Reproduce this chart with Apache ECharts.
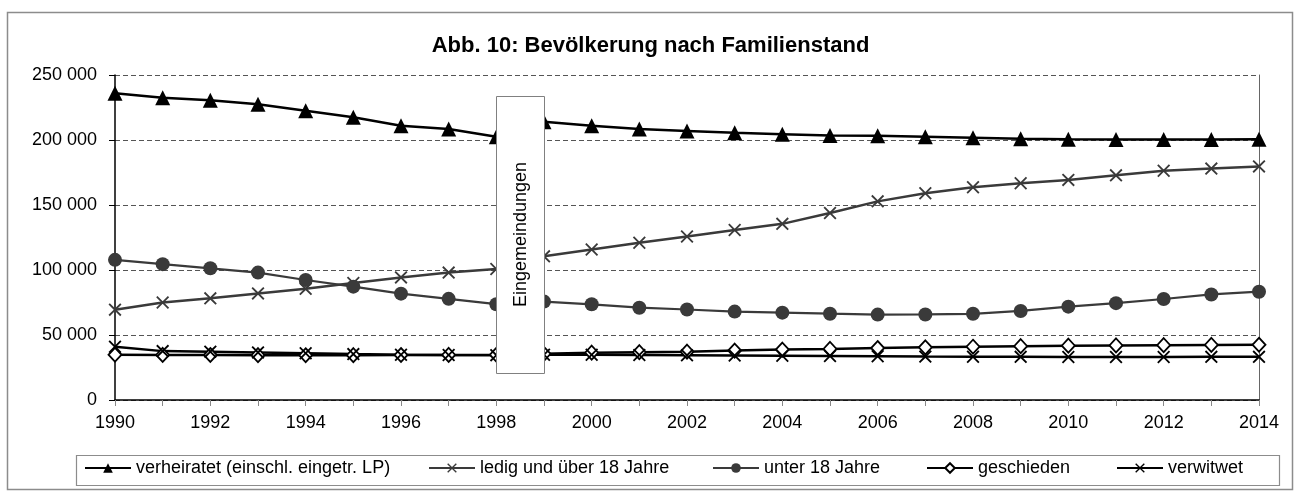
<!DOCTYPE html>
<html>
<head>
<meta charset="utf-8">
<script src="https://cdn.jsdelivr.net/npm/echarts@6/dist/echarts.min.js"></script>
<style>
  html, body { margin: 0; padding: 0; background: #fff; }
  #chart { width: 1301px; height: 493px; }
</style>
</head>
<body>
<div id="chart"></div>
<script>
// Jahre (Kategorien)
const years = ['1990','1991','1992','1993','1994','1995','1996','1997','1998','1999','2000','2001','2002',
               '2003','2004','2005','2006','2007','2008','2009','2010','2011','2012','2013','2014'];

// Bevölkerung nach Familienstand
const verheiratet = [236000, 232500, 230500, 227500, 222500, 217500, 211000, 208500, 202500, 214000, 211000, 208500, 207000,
                     205500, 204500, 203500, 203200, 202500, 201800, 201000, 200500, 200300, 200300, 200300, 200500];
const ledig       = [69500, 75000, 78200, 82000, 85500, 90000, 94300, 98000, 100800, 110500, 115800, 121000, 125800,
                     130800, 135500, 143800, 152800, 159000, 163600, 166700, 169300, 172800, 176300, 178000, 179700];
const unter18     = [107800, 104500, 101300, 98000, 92300, 87200, 81800, 77800, 73700, 75700, 73600, 71000, 69600,
                     68000, 67200, 66400, 65700, 65800, 66300, 68500, 71800, 74500, 77700, 81200, 83300];
const geschieden  = [34800, 34700, 34600, 34500, 34400, 34500, 34600, 34700, 34800, 35500, 36400, 36800, 37200,
                     38000, 38800, 39300, 40000, 40500, 41000, 41400, 41800, 42000, 42200, 42400, 42500];
const verwitwet   = [41000, 37600, 37200, 36600, 36000, 35300, 34800, 34600, 34500, 34800, 34800, 34600, 34400,
                     34200, 34000, 33800, 33600, 33400, 33300, 33200, 33100, 33100, 33100, 33200, 33200];

const seriesNames = ['verheiratet (einschl. eingetr. LP)', 'ledig und über 18 Jahre', 'unter 18 Jahre', 'geschieden', 'verwitwet'];

// Y-Achse
const yMin = 0, yMax = 250000, yStep = 50000;

// Hinweis auf die Eingemeindungen zwischen 1998 und 1999
const noteText = 'Eingemeindungen';
const noteFrom = 8.2, noteTo = 8.85;       // Kategorienindex (links/rechts)
const noteTop = 233800, noteBottom = 20800; // Werte (oben/unten)

const FONT = '"Liberation Sans", Arial, sans-serif';
const crossPath = 'path://M0,1 L1,0 L5,4 L9,0 L10,1 L6,5 L10,9 L9,10 L5,6 L1,10 L0,9 L4,5 Z';

function fmt(v) {
  return String(v).replace(/\B(?=(\d{3})+(?!\d))/g, ' ');
}

const chart = echarts.init(document.getElementById('chart'), null, { renderer: 'canvas' });

const legendLefts = [84, 428, 712, 926, 1116];

function lineSeries(name, data, opts) {
  return Object.assign({
    name: name,
    type: 'line',
    data: data,
    showSymbol: true,
    animation: false,
    z: 3
  }, opts);
}

const option = {
  animation: false,
  backgroundColor: '#ffffff',
  title: {
    text: 'Abb. 10: Bevölkerung nach Familienstand',
    left: 'center',
    top: 30,
    textStyle: { fontFamily: FONT, fontSize: 22, fontWeight: 'bold', color: '#000' }
  },
  grid: { left: 115, right: 42, top: 75, bottom: 93, containLabel: false },
  legend: seriesNames.map((n, i) => ({
    data: [n],
    left: legendLefts[i],
    top: 459,
    itemWidth: 46,
    itemHeight: 12,
    itemGap: 0,
    padding: 0,
    textStyle: { fontFamily: FONT, fontSize: 18, color: '#000' }
  })),
  xAxis: {
    type: 'category',
    data: years,
    boundaryGap: false,
    axisLine: { lineStyle: { color: '#000', width: 1.5 } },
    axisTick: { show: true, interval: 0, length: 6, lineStyle: { color: '#888' } },
    axisLabel: { interval: 1, margin: 14, fontFamily: FONT, fontSize: 18, color: '#000' },
    splitLine: { show: false }
  },
  yAxis: [{
    type: 'value',
    min: yMin, max: yMax, interval: yStep,
    axisLine: { show: true, lineStyle: { color: '#000', width: 1.5 } },
    axisTick: { show: true, length: 6, lineStyle: { color: '#000' } },
    axisLabel: { margin: 18, fontFamily: FONT, fontSize: 18, color: '#000', formatter: fmt },
    splitLine: { show: true, lineStyle: { color: '#555', type: [5, 3], width: 1 } }
  }, {
    type: 'value',
    position: 'right',
    min: yMin, max: yMax, interval: yStep,
    axisLine: { show: true, lineStyle: { color: '#666', width: 1 } },
    axisTick: { show: false },
    axisLabel: { show: false },
    splitLine: { show: false }
  }],
  series: [
    lineSeries(seriesNames[0], verheiratet, {
      symbol: 'triangle', symbolSize: 15,
      lineStyle: { color: '#000', width: 2.5 },
      itemStyle: { color: '#000', borderColor: '#000', borderWidth: 0 }
    }),
    lineSeries(seriesNames[1], ledig, {
      symbol: crossPath, symbolSize: 13,
      lineStyle: { color: '#3a3a3a', width: 2.5 },
      itemStyle: { color: '#3a3a3a', borderWidth: 0 }
    }),
    lineSeries(seriesNames[2], unter18, {
      symbol: 'circle', symbolSize: 14,
      lineStyle: { color: '#3a3a3a', width: 2.2 },
      itemStyle: { color: '#3a3a3a', borderWidth: 0 }
    }),
    lineSeries(seriesNames[3], geschieden, {
      symbol: 'diamond', symbolSize: [13, 14],
      lineStyle: { color: '#000', width: 2.5 },
      itemStyle: { color: '#fff', borderColor: '#000', borderWidth: 1.8 }
    }),
    lineSeries(seriesNames[4], verwitwet, {
      symbol: crossPath, symbolSize: 13,
      lineStyle: { color: '#000', width: 2.5 },
      itemStyle: { color: '#000', borderWidth: 0 }
    })
  ]
};

chart.setOption(option);

// Rahmen, Legendenkasten und Hinweis auf die Eingemeindungen
const pLT = chart.convertToPixel({ xAxisIndex: 0, yAxisIndex: 0 }, [noteFrom, noteTop]);
const pRB = chart.convertToPixel({ xAxisIndex: 0, yAxisIndex: 0 }, [noteTo, noteBottom]);

chart.setOption({
  graphic: [
    {
      type: 'rect', z: -1, silent: true,
      shape: { x: 7.5, y: 12.5, width: 1285, height: 477 },
      style: { fill: null, stroke: '#8c8c8c', lineWidth: 1.5 }
    },
    {
      type: 'rect', z: -1, silent: true,
      shape: { x: 76.5, y: 455.5, width: 1203, height: 30 },
      style: { fill: '#fff', stroke: '#8c8c8c', lineWidth: 1.2 }
    },
    {
      type: 'rect', z: 10, silent: true,
      shape: { x: Math.round(pLT[0]) + 0.5, y: Math.round(pLT[1]) + 0.5,
               width: Math.round(pRB[0] - pLT[0]), height: Math.round(pRB[1] - pLT[1]) },
      style: { fill: '#fff', stroke: '#808080', lineWidth: 1 }
    },
    {
      type: 'text', z: 11, silent: true,
      x: (pLT[0] + pRB[0]) / 2 + 1, y: (pLT[1] + pRB[1]) / 2,
      rotation: Math.PI / 2,
      style: {
        text: noteText, fontFamily: FONT, fontSize: 18, fill: '#000',
        align: 'center', verticalAlign: 'middle'
      }
    }
  ]
});
</script>
</body>
</html>
